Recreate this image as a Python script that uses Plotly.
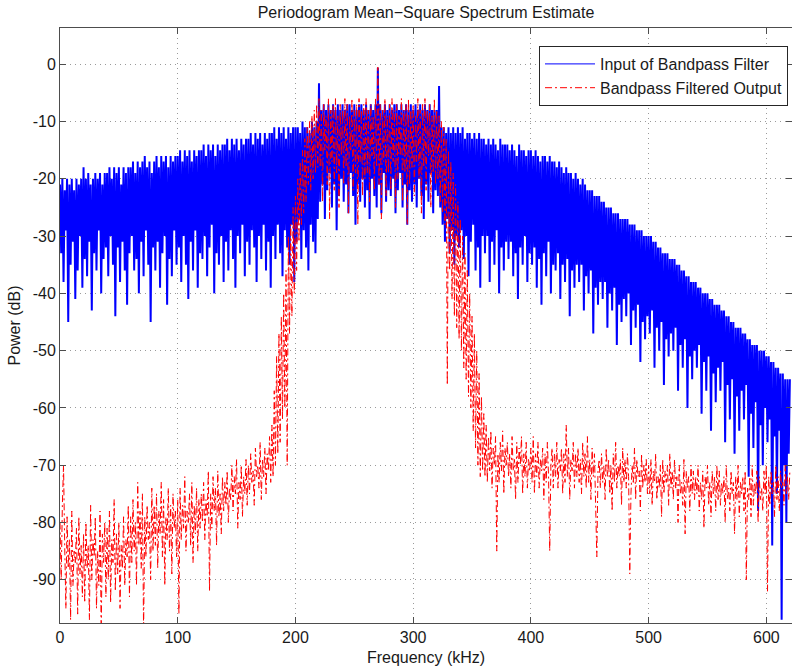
import plotly.graph_objects as go

# Frequency bin spacing (kHz) of the periodogram
freq_step_khz = 1.0

# Input of bandpass filter, power in dB, one value per 1 kHz bin (0 .. 620 kHz)
input_power_db = [
    -21, -33, -20, -38, -22, -29, -20, -45, -21, -35, -20, -31, -22, -41, -20, -36, -21, -30, -20, -39,
    -18, -34, -20, -37, -19, -31, -21, -43, -20, -33, -19, -36, -20, -29, -19, -40, -21, -34, -19, -32,
    -19, -37, -18, -30, -20, -35, -18, -44, -19, -32, -18, -38, -21, -31, -18, -36, -19, -42, -18, -33,
    -18, -30, -17, -36, -19, -34, -17, -40, -18, -31, -17, -37, -16, -29, -18, -35, -17, -45, -19, -32,
    -17, -36, -16, -31, -18, -39, -16, -33, -17, -30, -16, -42, -18, -34, -16, -37, -17, -29, -16, -35,
    -16, -32, -15, -38, -17, -30, -15, -35, -16, -41, -15, -31, -17, -36, -15, -29, -16, -39, -15, -33,
    -15, -34, -14, -30, -16, -37, -14, -32, -15, -28, -14, -40, -16, -33, -14, -35, -15, -30, -14, -38,
    -14, -31, -13, -36, -15, -29, -13, -34, -14, -39, -13, -30, -15, -33, -13, -28, -14, -37, -13, -31,
    -13, -35, -12, -29, -14, -32, -12, -38, -13, -30, -12, -34, -14, -28, -12, -36, -13, -31, -12, -39,
    -12, -30, -11, -34, -13, -28, -11, -33, -12, -37, -11, -29, -13, -32, -11, -35, -12, -28, -11, -38,
    -11, -31, -11, -27, -12, -34, -10, -29, -11, -32, -11, -36, -12, -28, -10, -31, -11, -33, -10, -27,
    -3.3, -24, -8, -21, -7, -27, -8, -22, -7, -19, -8, -25, -7, -21, -8, -29, -7, -23, -8, -20,
    -7, -24, -8, -21, -7, -26, -7, -19, -8, -23, -7, -28, -8, -21, -7, -24, -7, -20, -8, -25,
    -7, -22, -8, -27, -7, -20, -8, -23, -7, -25, -0.6, -21, -7, -26, -8, -19, -7, -24, -8, -22,
    -7, -23, -8, -20, -7, -26, -7, -22, -8, -19, -7, -25, -8, -21, -7, -28, -8, -22, -7, -24,
    -8, -21, -7, -25, -8, -20, -7, -23, -8, -27, -7, -21, -8, -24, -7, -19, -8, -26, -8, -22,
    -8, -23, -3.8, -25, -11, -28, -11, -31, -12, -27, -11, -33, -12, -29, -11, -35, -12, -30, -11, -32,
    -12, -29, -11, -34, -13, -30, -12, -37, -12, -31, -13, -28, -12, -36, -13, -32, -12, -39, -13, -30,
    -13, -33, -14, -30, -13, -38, -14, -31, -13, -35, -14, -29, -15, -40, -13, -32, -14, -36, -14, -31,
    -14, -34, -15, -31, -14, -37, -15, -33, -16, -41, -14, -32, -15, -35, -15, -30, -16, -38, -15, -33,
    -15, -35, -16, -32, -15, -39, -16, -34, -17, -42, -16, -33, -16, -37, -17, -31, -16, -40, -17, -35,
    -17, -36, -18, -33, -17, -41, -18, -35, -19, -38, -18, -34, -19, -44, -19, -36, -20, -39, -19, -35,
    -20, -38, -21, -35, -20, -43, -21, -37, -22, -40, -22, -36, -22, -47, -23, -39, -23, -42, -23, -38,
    -24, -41, -24, -38, -25, -46, -25, -40, -25, -43, -26, -39, -26, -49, -26, -42, -27, -45, -27, -41,
    -27, -44, -27, -40, -28, -49, -28, -43, -28, -46, -29, -42, -29, -52, -29, -45, -30, -48, -30, -44,
    -30, -47, -30, -43, -31, -53, -31, -46, -32, -50, -32, -45, -33, -56, -33, -48, -33, -51, -34, -47,
    -34, -50, -34, -46, -35, -57, -35, -49, -36, -53, -36, -48, -37, -60, -37, -51, -38, -55, -38, -50,
    -38, -53, -39, -49, -39, -61, -40, -52, -40, -57, -40, -51, -41, -64, -41, -54, -42, -59, -42, -53,
    -42, -57, -43, -52, -43, -66, -44, -56, -44, -62, -45, -55, -45, -68, -46, -58, -46, -64, -46, -57,
    -47, -62, -47, -56, -48, -72, -48, -61, -49, -67, -49, -59, -49, -78, -50, -63, -50, -70, -50, -60,
    -51, -66, -51, -62, -52, -84, -52, -65, -53, -75, -53, -64, -54, -97, -54, -70, -55, -80, -55, -68, -55,
]

# Bandpass filtered output, power in dB, one value per 1 kHz bin (0 .. 620 kHz)
output_power_db = [
    -80, -90, -77, -70, -84, -95, -79, -88, -83, -97, -78, -91, -85, -87, -81, -96, -79, -89, -84, -93,
    -82, -94, -80, -88, -84, -97, -77, -90, -83, -86, -79, -95, -85, -91, -78, -99, -82, -87, -80, -93,
    -81, -90, -78, -94, -83, -87, -76, -92, -82, -89, -80, -95, -84, -88, -79, -91, -83, -86, -77, -93,
    -79, -87, -76, -85, -80, -91, -73, -84, -78, -88, -75, -99, -79, -86, -77, -83, -80, -90, -74, -85,
    -77, -84, -75, -88, -78, -82, -73, -86, -76, -91, -79, -83, -74, -85, -77, -89, -75, -81, -78, -86,
    -76, -96, -74, -83, -77, -81, -72, -85, -78, -80, -75, -84, -73, -87, -77, -82, -74, -85, -76, -81,
    -75, -80, -73, -83, -76, -79, -71, -92, -75, -81, -72, -78, -74, -84, -71, -79, -75, -82, -72, -78,
    -73, -77, -71, -80, -74, -76, -70, -78, -72, -75, -69, -81, -73, -76, -70, -79, -72, -75, -69, -77,
    -70, -75, -68, -73, -71, -77, -67, -72, -70, -74, -66, -76, -69, -72, -67, -75, -68, -71, -65, -73,
    -63, -72, -57, -70, -51, -68, -47, -66, -44, -62, -40, -60, -36, -70, -30, -47, -28, -44, -25, -40,
    -23, -36, -20, -31, -17, -28, -15, -26, -13, -24, -11, -21, -10, -22, -9, -20, -8, -19, -7, -18,
    -6, -18, -8, -24, -7, -15, -9, -21, -6, -27, -8, -17, -7, -22, -6, -19, -9, -25, -7, -16,
    -8, -21, -6, -18, -7, -26, -9, -15, -6, -22, -8, -19, -7, -28, -6, -17, -8, -23, -7, -20,
    -6, -19, -8, -24, -7, -16, -9, -22, -6, -18, -0.5, -21, -7, -27, -8, -17, -6, -23, -9, -19,
    -7, -22, -6, -17, -8, -25, -7, -20, -9, -16, -6, -24, -8, -19, -7, -28, -6, -21, -8, -18,
    -7, -23, -9, -17, -6, -20, -8, -26, -7, -18, -6, -22, -8, -16, -7, -25, -9, -19, -6, -21,
    -8, -20, -9, -24, -10, -26, -11, -28, -13, -56, -15, -36, -17, -41, -19, -44, -21, -46, -24, -48,
    -27, -50, -30, -53, -33, -55, -36, -58, -40, -60, -44, -64, -47, -67, -50, -70, -54, -72, -58, -71,
    -61, -72, -63, -73, -65, -71, -64, -74, -67, -70, -65, -85, -68, -73, -66, -71, -64, -75, -67, -70,
    -66, -72, -68, -74, -65, -71, -69, -76, -66, -73, -67, -70, -65, -75, -68, -72, -66, -74, -69, -71,
    -67, -73, -65, -75, -68, -72, -66, -74, -69, -71, -67, -76, -68, -73, -66, -72, -85, -70, -67, -74,
    -68, -72, -66, -74, -69, -71, -67, -75, -68, -73, -63, -72, -67, -76, -69, -71, -66, -74, -68, -72,
    -67, -73, -69, -75, -66, -72, -68, -74, -65, -73, -69, -76, -67, -72, -68, -75, -86, -71, -69, -74,
    -68, -73, -70, -76, -67, -72, -69, -75, -70, -78, -68, -73, -66, -74, -70, -72, -69, -77, -67, -73,
    -69, -74, -68, -72, -89, -75, -70, -73, -67, -76, -69, -72, -71, -78, -68, -74, -70, -73, -69, -75,
    -70, -75, -69, -77, -71, -73, -68, -76, -72, -74, -70, -79, -69, -75, -71, -73, -70, -77, -68, -74,
    -71, -76, -69, -74, -72, -80, -70, -75, -73, -77, -69, -82, -71, -74, -72, -78, -70, -75, -71, -76,
    -72, -75, -70, -78, -73, -76, -71, -81, -72, -74, -70, -77, -73, -79, -71, -75, -72, -78, -70, -76,
    -71, -77, -73, -75, -72, -80, -70, -76, -74, -78, -71, -75, -73, -82, -72, -76, -70, -79, -73, -75,
    -72, -78, -71, -90, -74, -76, -72, -79, -70, -77, -73, -75, -71, -80, -72, -76, -74, -78, -71, -75,
    -70, -92, -72, -77, -71, -75, -73, -79, -70, -76, -72, -78, -71, -74, -73, -77, -70, -75, -72, -76, -71,
]

x_tick_vals = [0, 100, 200, 300, 400, 500, 600]
x_tick_text = ["0", "100", "200", "300", "400", "500", "600"]
y_tick_vals = [0, -10, -20, -30, -40, -50, -60, -70, -80, -90]
y_tick_text = ["0", "-10", "-20", "-30", "-40", "-50", "-60", "-70", "-80", "-90"]

freq_in = [i * freq_step_khz for i in range(len(input_power_db))]
freq_out = [i * freq_step_khz for i in range(len(output_power_db))]

axis_color = "#4d4d4d"
grid_color = "#9a9a9a"
font_family = "Liberation Sans, Arial, Helvetica, sans-serif"

fig = go.Figure()
fig.add_trace(go.Scatter(
    x=freq_in, y=input_power_db, mode="lines",
    line=dict(color="#0000ff", width=2),
    name="Input of Bandpass Filter", legendgroup="in", showlegend=False,
))
# legend entry with the thin line style of the original legend
fig.add_trace(go.Scatter(
    x=[None], y=[None], mode="lines",
    line=dict(color="#0000ff", width=1),
    name="Input of Bandpass Filter", legendgroup="in", showlegend=True,
))
fig.add_trace(go.Scatter(
    x=freq_out, y=output_power_db, mode="lines",
    line=dict(color="#ff0000", width=1, dash="7px,3px,2px,3px"),
    name="Bandpass Filtered Output",
))

axis_common = dict(
    showline=True, linecolor=axis_color, linewidth=1, mirror="ticks",
    ticks="inside", ticklen=6, tickcolor=axis_color, tickwidth=1,
    showgrid=True, gridcolor=grid_color, gridwidth=1, griddash="1px,4px",
    zeroline=False, automargin=False,
    tickfont=dict(size=16, color="#1a1a1a", family=font_family),
)

fig.update_layout(
    width=792, height=668,
    margin=dict(l=60, r=0, t=28, b=45),
    paper_bgcolor="white", plot_bgcolor="white",
    font=dict(family=font_family, size=16, color="#1a1a1a"),
    title=dict(
        text="Periodogram Mean\u2212Square Spectrum Estimate",
        x=0.5, xref="paper", xanchor="center",
        y=1 - 12 / 668, yref="container", yanchor="middle",
        font=dict(size=16, family=font_family, color="#1a1a1a"),
    ),
    xaxis=dict(
        range=[0, 621.8], tickmode="array", tickvals=x_tick_vals, ticktext=x_tick_text,
        title=dict(text="Frequency (kHz)", standoff=6, font=dict(size=16)),
        **axis_common,
    ),
    yaxis=dict(
        range=[-97.55, 6.33], tickmode="array", tickvals=y_tick_vals, ticktext=y_tick_text,
        title=dict(text="Power (dB)", standoff=8, font=dict(size=16)),
        **axis_common,
    ),
    legend=dict(
        x=(788 - 60) / 732, y=(623.3 - 46) / 595.3, xanchor="right", yanchor="top",
        bgcolor="white", bordercolor="#262626", borderwidth=1,
        font=dict(size=16, family=font_family, color="#1a1a1a"),
        itemwidth=50, tracegroupgap=0,
    ),
    showlegend=True,
)

fig.write_html(
    "out.html",
    config={"displayModeBar": False},
    post_script="document.body.style.margin='0';document.body.style.padding='0';",
)
